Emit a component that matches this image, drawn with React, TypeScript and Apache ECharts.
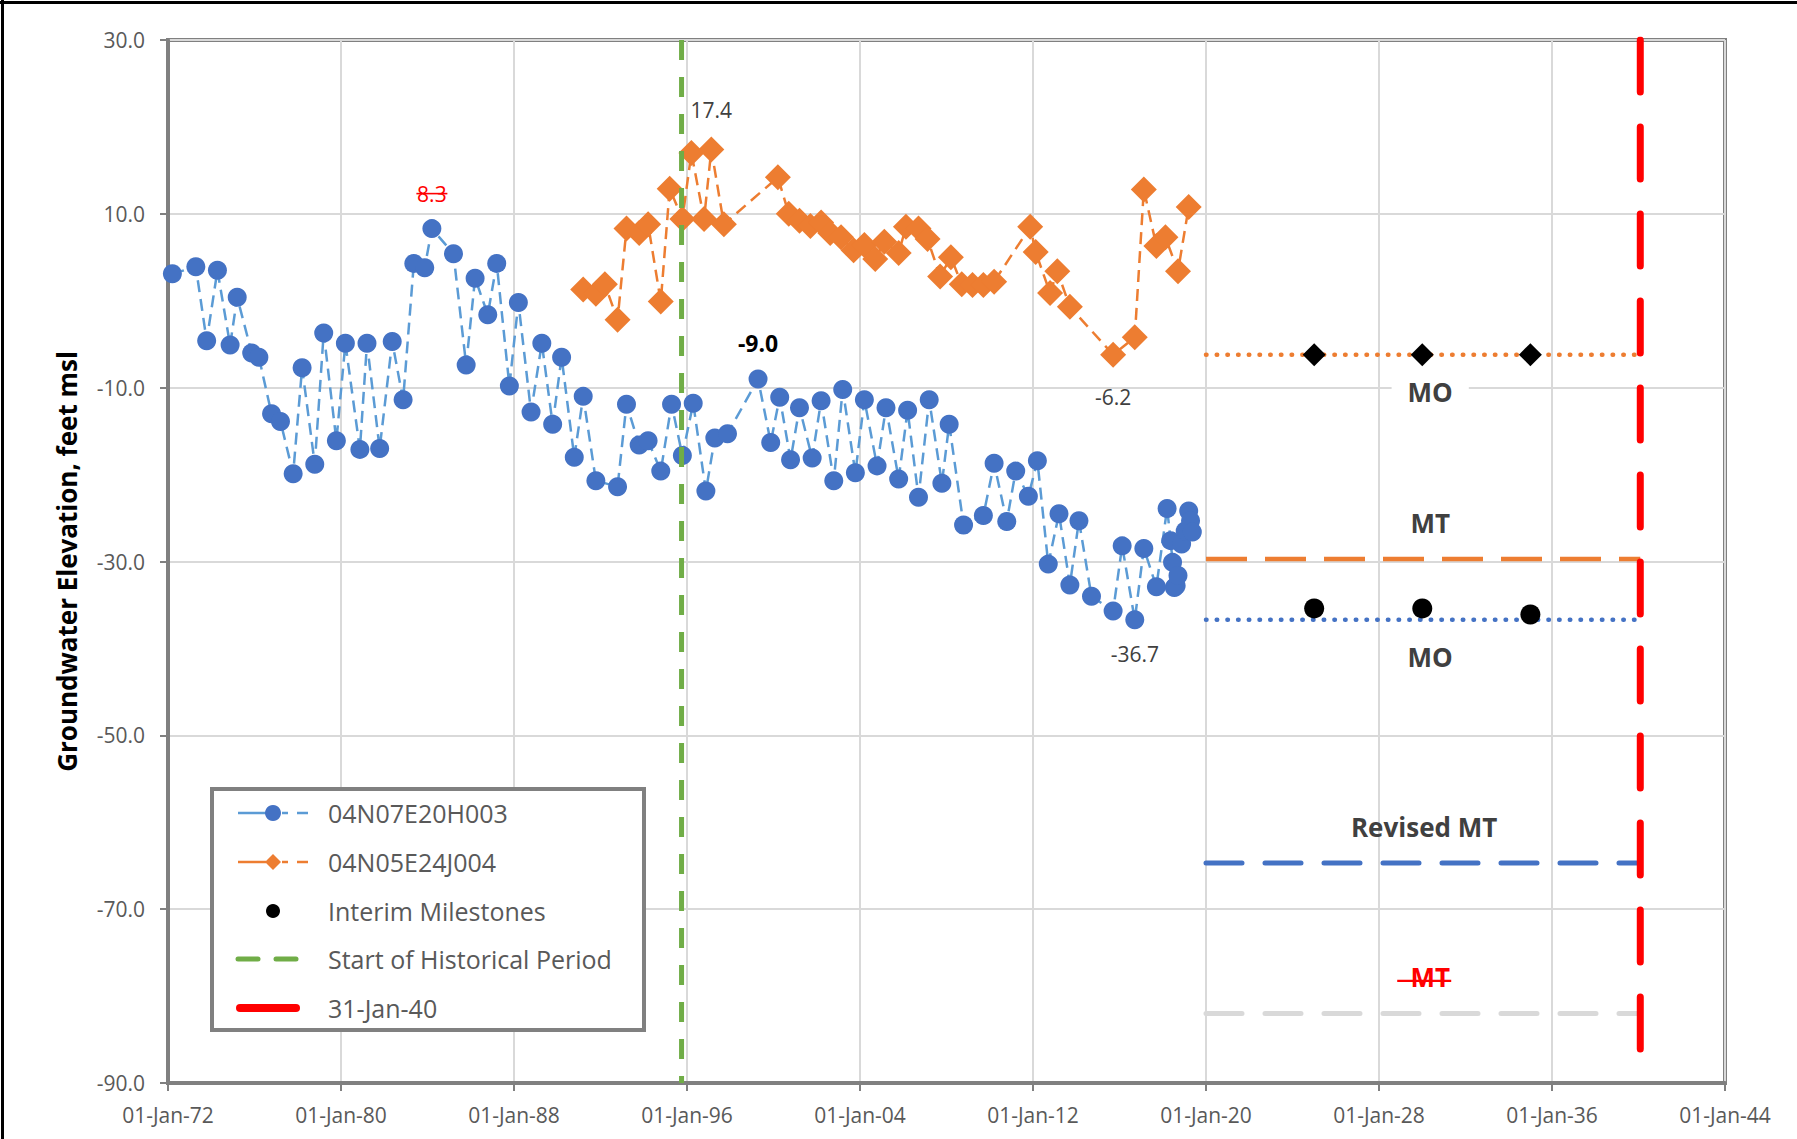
import React, { useEffect, useRef } from "react";
import * as echarts from "echarts";

const FONT = '"Open Sans", "Liberation Sans", sans-serif';

// ---------- data ----------
const WELL_A = "04N07E20H003";
const WELL_B = "04N05E24J004";

const wellADates = [
  "1972-03", "1973-04", "1973-10", "1974-04", "1974-11", "1975-03", "1975-11", "1976-03",
  "1976-10", "1977-03", "1977-10", "1978-03", "1978-10", "1979-03", "1979-10", "1980-03",
  "1980-11", "1981-03", "1981-10", "1982-05", "1982-11", "1983-05", "1983-11", "1984-03",
  "1985-03", "1985-10", "1986-03", "1986-10", "1987-03", "1987-10", "1988-03", "1988-10",
  "1989-04", "1989-10", "1990-03", "1990-10", "1991-03", "1991-10", "1992-10", "1993-03",
  "1993-10", "1994-03", "1994-10", "1995-04", "1995-10", "1996-04", "1996-11", "1997-04",
  "1997-11", "1999-04", "1999-11", "2000-04", "2000-10", "2001-03", "2001-10", "2002-03",
  "2002-10", "2003-03", "2003-10", "2004-03", "2004-10", "2005-03", "2005-10", "2006-03",
  "2006-09", "2007-03", "2007-10", "2008-02", "2008-10", "2009-09", "2010-03", "2010-10",
  "2011-03", "2011-10", "2012-03", "2012-09", "2013-03", "2013-09", "2014-02", "2014-09",
  "2015-09", "2016-02", "2016-09", "2017-02", "2017-09", "2018-03", "2018-05", "2018-06",
  "2018-07", "2018-08", "2018-09", "2018-11", "2019-01", "2019-03", "2019-04", "2019-05",
];
const wellAValues = [
  3.1, 3.9, -4.6, 3.5, -5.1, 0.4, -6.0, -6.5,
  -13.0, -13.9, -19.9, -7.7, -18.8, -3.7, -16.1, -4.9,
  -17.1, -4.9, -17.0, -4.7, -11.4, 4.3, 3.8, 8.3,
  5.4, -7.4, 2.6, -1.6, 4.3, -9.8, -0.2, -12.8,
  -4.9, -14.2, -6.5, -18.0, -11.0, -20.7, -21.4, -11.9,
  -16.6, -16.1, -19.6, -11.9, -17.8, -11.8, -21.9, -15.8,
  -15.3, -9.0, -16.3, -11.1, -18.3, -12.3, -18.1, -11.5,
  -20.7, -10.2, -19.8, -11.4, -19.0, -12.3, -20.5, -12.6,
  -22.6, -11.4, -21.0, -14.2, -25.8, -24.7, -18.7, -25.4,
  -19.6, -22.5, -18.4, -30.3, -24.5, -32.7, -25.3, -34.0,
  -35.7, -28.2, -36.7, -28.5, -32.9, -23.9, -27.6, -30.1,
  -33.0, -32.8, -31.6, -28.0, -26.5, -24.2, -25.3, -26.6,
];

const wellBDates = [
  "1991-03", "1991-10", "1992-03", "1992-10", "1993-03", "1993-10", "1994-03", "1994-10",
  "1995-03", "1995-10", "1996-03", "1996-10", "1997-02", "1997-09", "2000-03", "2000-09",
  "2001-03", "2001-09", "2002-03", "2002-08", "2003-02", "2003-09", "2004-03", "2004-09",
  "2005-02", "2005-10", "2006-02", "2006-09", "2007-02", "2007-09", "2008-03", "2008-09",
  "2009-03", "2009-09", "2010-03", "2011-11", "2012-02", "2012-10", "2013-02", "2013-09",
  "2015-09", "2016-09", "2017-02", "2017-09", "2018-02", "2018-09", "2019-03",
];
const wellBValues = [
  1.3, 0.8, 1.9, -2.2, 8.3, 7.8, 8.8, -0.1,
  12.9, 9.4, 17.0, 9.4, 17.4, 8.8, 14.2, 10.0,
  9.2, 8.6, 9.0, 7.8, 7.3, 5.8, 6.4, 4.8,
  6.8, 5.5, 8.5, 8.3, 7.1, 2.8, 5.0, 1.9,
  1.8, 1.8, 2.2, 8.5, 5.6, 0.9, 3.4, -0.7,
  -6.2, -4.2, 12.8, 6.3, 7.3, 3.4, 10.8,
];

// interim milestones
const milestoneDates = ["2025-01-01", "2030-01-01", "2035-01-01"];
const wellAMilestones = [-35.4, -35.4, -36.1];
const wellBMilestones = [-6.2, -6.2, -6.2];

// thresholds (from 2020 to the deadline)
const thresholdStart = "2020-01-01";
const thresholdEnd = "2040-01-31";
const wellBMO = -6.2;
const wellBMT = -29.7;
const wellAMO = -36.7;
const wellARevisedMT = -64.7;
const wellAOriginalMT = -82.0;

// reference dates
const historicalStart = "1995-10-01";
const deadline = "2040-01-31";

// labelled points
const wellALabelDates = ["1984-03", "1999-04", "2016-09"];
const wellBLabelDates = ["1997-02", "2015-09"];

// axes
const xAxisStart = "1972-01-01";
const xAxisSecondTick = "1980-01-01";
const xAxisEnd = "2044-01-01";
const yMin = -90;
const yMax = 30;
const yStep = 20;

// label anchor dates
const thresholdLabelDate = "2030-05-15";
const revisedLabelDate = "2030-02-01";

const MONTHS = ["Jan", "Feb", "Mar", "Apr", "May", "Jun", "Jul", "Aug", "Sep", "Oct", "Nov", "Dec"];

function ts(s: string): number {
  const p = s.split("-").map(Number);
  return Date.UTC(p[0], (p[1] || 1) - 1, p.length > 2 ? p[2] : 15);
}
function fmtDate(v: number): string {
  const d = new Date(v);
  return (
    String(d.getUTCDate()).padStart(2, "0") +
    "-" +
    MONTHS[d.getUTCMonth()] +
    "-" +
    String(d.getUTCFullYear()).slice(-2)
  );
}

const valueFmt = (p: any) => Number(p.value[1]).toFixed(1);

export default function App() {
  const ref = useRef<HTMLDivElement>(null);

  useEffect(() => {
    const el = ref.current;
    if (!el) return;
    const chart = echarts.init(el, null, { renderer: "svg" });

    const labelA: Record<string, any> = {
      [wellALabelDates[0]]: { position: "top", distance: 15, color: "#FF0000", fontSize: 21 },
      [wellALabelDates[1]]: { position: "top", distance: 15, color: "#000000", fontSize: 23, fontWeight: "bold" },
      [wellALabelDates[2]]: { position: "bottom", distance: 14, color: "#404040", fontSize: 21 },
    };
    const labelB: Record<string, any> = {
      [wellBLabelDates[0]]: { position: "top", distance: 16, color: "#404040", fontSize: 21 },
      [wellBLabelDates[1]]: { position: "bottom", distance: 19, color: "#404040", fontSize: 21 },
    };

    const wellAData = wellADates.map((d, i) => {
      const item: any = { value: [ts(d), wellAValues[i]] };
      if (labelA[d]) item.label = { show: true, formatter: valueFmt, fontFamily: FONT, ...labelA[d] };
      return item;
    });
    const wellBData = wellBDates.map((d, i) => {
      const item: any = { value: [ts(d), wellBValues[i]] };
      if (labelB[d]) item.label = { show: true, formatter: valueFmt, fontFamily: FONT, ...labelB[d] };
      return item;
    });

    const tagLabel = (text: string, date: string, value: number, dy: number, color = "#404040", bg?: string) => ({
      symbol: "circle",
      symbolSize: 1,
      itemStyle: { color: "rgba(0,0,0,0)" },
      silent: true,
      data: [
        {
          coord: [ts(date), value],
          label: {
            show: true,
            position: "inside",
            offset: [0, dy],
            formatter: text,
            fontFamily: FONT,
            fontSize: 26,
            fontWeight: "bold",
            color,
            backgroundColor: bg || "transparent",
            padding: bg ? [3, 16] : 0,
          },
        },
      ],
    });

    const hLine = (name: string, value: number, color: string, width: number, dash: any, cap: string, mark?: any) => ({
      type: "line",
      name,
      data: [
        [ts(thresholdStart), value],
        [ts(thresholdEnd), value],
      ],
      symbol: "none",
      silent: true,
      lineStyle: { color, width, type: dash, cap },
      markPoint: mark,
      z: 2,
    });

    const dotted = [0.5, 10.2];
    const longDash = [41, 18];
    const longDashRound = [36, 23];

    const xMin = ts(xAxisStart);
    const xMax = ts(xAxisEnd);
    const xStep = ts(xAxisSecondTick) - xMin;

    const option: any = {
      animation: false,
      backgroundColor: "#ffffff",
      grid: {
        left: 168,
        top: 40,
        width: 1557,
        height: 1043,
        show: true,
        borderColor: "#808080",
        borderWidth: 4,
        backgroundColor: "transparent",
      },
      xAxis: {
        type: "value",
        min: xMin,
        max: xMax,
        interval: xStep,
        axisLine: { show: true, onZero: false, lineStyle: { color: "#808080", width: 4 } },
        axisTick: { show: true, length: 8, lineStyle: { color: "#808080", width: 2 } },
        axisLabel: {
          formatter: (v: number) => fmtDate(v),
          fontFamily: FONT,
          fontSize: 21,
          color: "#595959",
          margin: 21,
          showMinLabel: true,
          showMaxLabel: true,
        },
        splitLine: { show: true, lineStyle: { color: "#D9D9D9", width: 2 } },
      },
      yAxis: {
        type: "value",
        min: yMin,
        max: yMax,
        interval: yStep,
        name: "Groundwater Elevation, feet msl",
        nameLocation: "middle",
        nameGap: 88,
        nameTextStyle: { fontFamily: FONT, fontSize: 26, fontWeight: "bold", color: "#000000" },
        axisLine: { show: true, onZero: false, lineStyle: { color: "#808080", width: 4 } },
        axisTick: { show: true, length: 8, lineStyle: { color: "#808080", width: 2 } },
        axisLabel: {
          formatter: (v: number) => v.toFixed(1),
          fontFamily: FONT,
          fontSize: 21,
          color: "#595959",
          margin: 23,
        },
        splitLine: { show: true, lineStyle: { color: "#D9D9D9", width: 2 } },
      },
      series: [
        hLine("Original MT", wellAOriginalMT, "#D9D9D9", 5, longDashRound, "round",
          tagLabel("MT", thresholdLabelDate, wellAOriginalMT, -36, "#FF0000")),
        hLine("Revised MT", wellARevisedMT, "#4472C4", 5, longDashRound, "round",
          tagLabel("Revised MT", revisedLabelDate, wellARevisedMT, -36)),
        hLine("MO A", wellAMO, "#4472C4", 4.5, dotted, "round",
          tagLabel("MO", thresholdLabelDate, wellAMO, 37)),
        hLine("MT B", wellBMT, "#ED7D31", 4.5, longDash, "butt",
          tagLabel("MT", thresholdLabelDate, wellBMT, -36)),
        hLine("MO B", wellBMO, "#ED7D31", 4.5, dotted, "round",
          tagLabel("MO", thresholdLabelDate, wellBMO, 37, "#404040", "#ffffff")),
        {
          type: "scatter",
          name: "Interim Milestones",
          data: milestoneDates.map((d, i) => [ts(d), wellAMilestones[i]]),
          symbol: "circle",
          symbolSize: 20,
          itemStyle: { color: "#000000", opacity: 1 },
          z: 3,
        },
        {
          type: "scatter",
          name: "Interim Milestones B",
          data: milestoneDates.map((d, i) => [ts(d), wellBMilestones[i]]),
          symbol: "diamond",
          symbolSize: 23,
          itemStyle: { color: "#000000", opacity: 1 },
          z: 3,
        },
        {
          type: "line",
          name: WELL_A,
          data: wellAData,
          symbol: "circle",
          symbolSize: 19,
          itemStyle: { color: "#4472C4" },
          lineStyle: { color: "#5B9BD5", width: 2.5, type: [12, 7] },
          z: 4,
        },
        {
          type: "line",
          name: WELL_B,
          data: wellBData,
          symbol: "diamond",
          symbolSize: 26,
          itemStyle: { color: "#ED7D31" },
          lineStyle: { color: "#ED7D31", width: 2.5, type: [12, 7] },
          z: 4,
        },
        {
          type: "line",
          name: "Start of Historical Period",
          data: [
            [ts(historicalStart), yMax],
            [ts(historicalStart), yMin],
          ],
          symbol: "none",
          silent: true,
          lineStyle: { color: "#70AD47", width: 5, type: [20, 17] },
          z: 6,
        },
        {
          type: "line",
          name: "31-Jan-40",
          data: [
            [ts(deadline), yMax],
            [ts(deadline), yMin],
          ],
          symbol: "none",
          silent: true,
          lineStyle: { color: "#FF0000", width: 7, type: [52, 35], cap: "round" },
          z: 7,
        },
      ],
    };

    chart.setOption(option);

    // strike-through marks on the two red labels, plus the legend and frame
    const px = (date: string, value: number) =>
      chart.convertToPixel({ gridIndex: 0 }, [ts(date), value]) as number[];
    const p83 = px(wellALabelDates[0], wellAValues[wellADates.indexOf(wellALabelDates[0])]);
    const pMT = px(thresholdLabelDate, wellAOriginalMT);

    const LX = 212;
    const LY = 789;
    const rows = [813, 862, 911, 959, 1008];
    const legendTexts = [WELL_A, WELL_B, "Interim Milestones", "Start of Historical Period", "31-Jan-40"];

    const graphic: any[] = [
      // outer frame (top and left edges visible)
      { type: "line", shape: { x1: 0, y1: 2.5, x2: 1797, y2: 2.5 }, style: { stroke: "#000", lineWidth: 3 }, z: 100 },
      { type: "line", shape: { x1: 2.5, y1: 0, x2: 2.5, y2: 1139 }, style: { stroke: "#000", lineWidth: 3 }, z: 100 },
      // strike-throughs
      {
        type: "line",
        shape: { x1: p83[0] - 15.5, y1: p83[1] - 35, x2: p83[0] + 15.5, y2: p83[1] - 35 },
        style: { stroke: "#FF0000", lineWidth: 1.6 },
        z: 100,
      },
      {
        type: "line",
        shape: { x1: pMT[0] - 33, y1: pMT[1] - 32.5, x2: pMT[0] + 21, y2: pMT[1] - 32.5 },
        style: { stroke: "#FF0000", lineWidth: 2.2 },
        z: 100,
      },
      // legend box
      {
        type: "rect",
        shape: { x: LX, y: LY, width: 432, height: 241 },
        style: { fill: "#ffffff", stroke: "#808080", lineWidth: 4 },
        z: 100,
      },
      // row 1
      { type: "line", shape: { x1: 238, y1: rows[0], x2: 266, y2: rows[0] }, style: { stroke: "#5B9BD5", lineWidth: 2.5 }, z: 101 },
      { type: "line", shape: { x1: 282, y1: rows[0], x2: 288, y2: rows[0] }, style: { stroke: "#5B9BD5", lineWidth: 2.5 }, z: 101 },
      { type: "line", shape: { x1: 297, y1: rows[0], x2: 308, y2: rows[0] }, style: { stroke: "#5B9BD5", lineWidth: 2.5 }, z: 101 },
      { type: "circle", shape: { cx: 273, cy: rows[0], r: 8 }, style: { fill: "#4472C4" }, z: 102 },
      // row 2
      { type: "line", shape: { x1: 238, y1: rows[1], x2: 266, y2: rows[1] }, style: { stroke: "#ED7D31", lineWidth: 2.5 }, z: 101 },
      { type: "line", shape: { x1: 282, y1: rows[1], x2: 288, y2: rows[1] }, style: { stroke: "#ED7D31", lineWidth: 2.5 }, z: 101 },
      { type: "line", shape: { x1: 297, y1: rows[1], x2: 308, y2: rows[1] }, style: { stroke: "#ED7D31", lineWidth: 2.5 }, z: 101 },
      {
        type: "polygon",
        shape: { points: [[273, rows[1] - 8], [281, rows[1]], [273, rows[1] + 8], [265, rows[1]]] },
        style: { fill: "#ED7D31" },
        z: 102,
      },
      // row 3
      { type: "circle", shape: { cx: 273, cy: rows[2], r: 7 }, style: { fill: "#000000" }, z: 102 },
      // row 4
      { type: "line", shape: { x1: 238, y1: rows[3], x2: 258, y2: rows[3] }, style: { stroke: "#70AD47", lineWidth: 5, lineCap: "round" }, z: 101 },
      { type: "line", shape: { x1: 276, y1: rows[3], x2: 296, y2: rows[3] }, style: { stroke: "#70AD47", lineWidth: 5, lineCap: "round" }, z: 101 },
      // row 5
      { type: "line", shape: { x1: 240, y1: rows[4], x2: 296, y2: rows[4] }, style: { stroke: "#FF0000", lineWidth: 8, lineCap: "round" }, z: 101 },
    ];
    legendTexts.forEach((t, i) => {
      graphic.push({
        type: "text",
        x: 328,
        y: rows[i],
        style: {
          text: t,
          fill: "#595959",
          fontFamily: FONT,
          fontSize: 25,
          verticalAlign: "middle",
          align: "left",
        },
        z: 102,
      });
    });

    chart.setOption({ graphic });

    return () => {
      chart.dispose();
    };
  }, []);

  return (
    <div
      ref={ref}
      style={{ position: "fixed", left: 0, top: 0, width: 1797, height: 1139, background: "#ffffff" }}
    />
  );
}
